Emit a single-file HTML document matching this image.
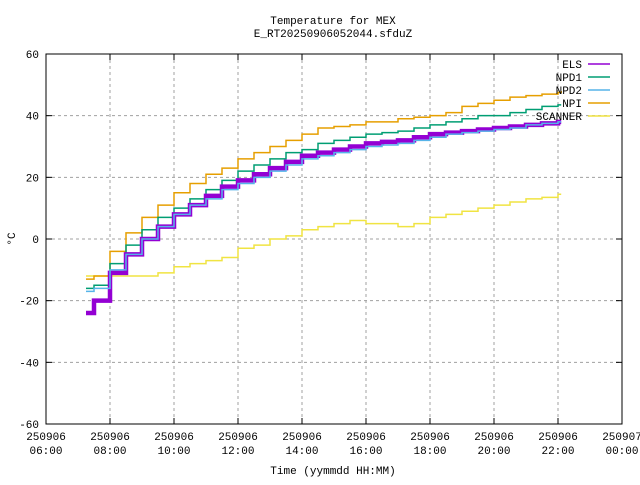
<!DOCTYPE html>
<html><head><meta charset="utf-8"><style>
body{margin:0;background:#fff}
svg{font-family:"Liberation Mono","DejaVu Sans Mono",monospace;font-size:11px}
</style></head><body>
<svg id="c" width="640" height="480" xmlns="http://www.w3.org/2000/svg">
<rect width="640" height="480" fill="#fff"/>
<text x="333" y="24" text-anchor="middle">Temperature for MEX</text>
<text x="333" y="37" text-anchor="middle">E_RT20250906052044.sfduZ</text>
<text x="333" y="474" text-anchor="middle">Time (yymmdd HH:MM)</text>
<text x="15" y="239" text-anchor="middle" transform="rotate(-90 15 239)">°C</text>
<g id="grid"></g>
<g id="series"></g>
<rect x="46" y="54" width="576" height="370" fill="none" stroke="#000"/>
<g id="axes"></g>
<g id="legend"></g>
</svg>
<script>
const yTicks=[-60,-40,-20,0,20,40,60];
const xTicks=[6,8,10,12,14,16,18,20,22,24];
const xTickLabels=["06:00","08:00","10:00","12:00","14:00","16:00","18:00","20:00","22:00","00:00"];
const xTickDates=["250906","250906","250906","250906","250906","250906","250906","250906","250906","250907"];
const times=[7.25,7.5,8,8.5,9,9.5,10,10.5,11,11.5,12,12.5,13,13.5,14,14.5,15,15.5,16,16.5,17,17.5,18,18.5,19,19.5,20,20.5,21,21.5,22,22.1];
const els=[-24,-20,-11,-5,0,4,8,11,14,17,19,21,23,25,27,28,29,30,31,31.5,32,33,34,34.5,35,35.5,36,36.5,37,37.5,38,38];
const npd1=[-16,-15,-8,-2,3,7,10,13,16,19,22,24,26,28,29,31,32,33,34,34.5,35,36,37,38,39,40,40,41,42,43,43.5,43.5];
const npd2=[-17,-16,-10,-5,0,4,8,11,13,16,18,20,22,24,26,27,28,29,30,30.5,31,32,33,34,34.5,35,35.5,36,37,37.5,38,38];
const npi=[-13,-12,-4,2,7,11,15,18,21,23,26,28,30,32,34,36,36.5,37,38,38,39,39.5,40,41,43,44,45,46,46.5,47,47.5,48];
const scanner=[-12,-12,-12,-12,-12,-11,-9,-8,-7,-6,-3,-2,0,1,3,4,5,6,5,5,4,5,7,8,9,10,11,12,13,13.5,14.5,14.5];
const seriesNames=["ELS","NPD1","NPD2","NPI","SCANNER"];
const NS="http://www.w3.org/2000/svg";
const X=h=>46+(h-6)*32;
const Y=v=>239-v*370/120;
function mk(tag,attrs,parent){const e=document.createElementNS(NS,tag);for(const k in attrs)e.setAttribute(k,attrs[k]);parent.appendChild(e);return e;}
const grid=document.getElementById('grid'),axes=document.getElementById('axes'),ser=document.getElementById('series'),leg=document.getElementById('legend');
yTicks.forEach(v=>{
  if(v>-60&&v<60){const l=mk('line',{x1:46,x2:622,y1:Y(v),y2:Y(v),stroke:'#a0a0a0','stroke-dasharray':'3,3'},grid);
  
  }
  const t=mk('line',{x1:46,x2:52,y1:Y(v),y2:Y(v),stroke:'#000'},axes);
  
  
  mk('line',{x1:616,x2:622,y1:Y(v),y2:Y(v),stroke:'#000'},axes);
  const tx=mk('text',{x:39,y:Y(v)+4,'text-anchor':'end'},axes);tx.textContent=v;
  
  
});
xTicks.forEach((h,i)=>{
  if(i>0&&i<xTicks.length-1){const l=mk('line',{x1:X(h),x2:X(h),y1:54,y2:424,stroke:'#a0a0a0','stroke-dasharray':'3,3'},grid);
  
  }
  const t=mk('line',{x1:X(h),x2:X(h),y1:418,y2:424,stroke:'#000'},axes);
  
  
  mk('line',{x1:X(h),x2:X(h),y1:54,y2:60,stroke:'#000'},axes);
  const a=mk('text',{x:X(h),y:440,'text-anchor':'middle'},axes);a.textContent=xTickDates[i];
  
  
  const b=mk('text',{x:X(h),y:454,'text-anchor':'middle'},axes);b.textContent=xTickLabels[i];
  
  
});
function stepPath(vals){let d='';for(let i=0;i<times.length;i++){const x=X(times[i]),y=Y(vals[i]);if(i===0)d='M'+x+' '+y;else d+=' V'+y;if(i<times.length-1)d+=' H'+X(times[i+1]);}return d;}
const cfg=[[scanner,'#f0e442',1.5,'scanner-line'],[npi,'#e69f00',1.5,'npi-line'],[npd1,'#009e73',1.5,'npd1-line'],[els,'#9400d3',4.5,'els-line'],[npd2,'#56b4e9',1.5,'npd2-line']];
cfg.forEach(c=>{const p=mk('path',{d:stepPath(c[0]),fill:'none',stroke:c[1],'stroke-width':c[2]},ser);
  
  });
const legCols=['#9400d3','#009e73','#56b4e9','#e69f00','#f0e442'];
seriesNames.forEach((n,i)=>{const y=64+i*13;
  const t=mk('text',{x:582,y:y+4,'text-anchor':'end'},leg);t.textContent=n;
  
  
  const l=mk('line',{x1:588,x2:610,y1:y,y2:y,stroke:legCols[i],'stroke-width':1.5},leg);
  
  
});
</script>
</body></html>
